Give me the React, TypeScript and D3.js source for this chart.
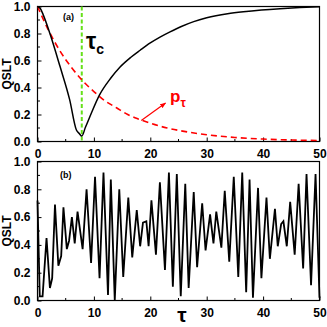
import React, { useEffect, useRef } from "react";
import * as d3 from "d3";

// panel (a): QSLT and p_tau against tau
const tauA = [0, 0.5, 1, 2.2, 4, 5.7, 6.9, 7.4, 7.85, 8.5, 9.3, 11, 13, 14.6, 16.5, 18.2, 20, 21.8, 23.5, 25.5, 27.7, 30, 33.7, 36.5, 39.7, 43, 46.5, 50];
const qsltA = [1.0, 0.985, 0.94, 0.8, 0.555, 0.31, 0.085, 0.06, 0.04, 0.105, 0.185, 0.345, 0.47, 0.55, 0.622, 0.676, 0.73, 0.775, 0.812, 0.852, 0.888, 0.916, 0.946, 0.961, 0.974, 0.984, 0.992, 0.998];
const tauP = [0, 2, 4, 6, 8, 10, 12, 14, 16, 18, 20, 23, 26, 30, 35, 40, 45, 50];
const pTau = [1.0, 0.82, 0.67, 0.55, 0.45, 0.37, 0.3, 0.25, 0.2, 0.165, 0.135, 0.1, 0.075, 0.05, 0.03, 0.018, 0.011, 0.007];
const tauC = 7.85;

// panel (b): oscillating QSLT
const tauB = [0, 0.4, 0.9, 1.6, 2.2, 2.6, 3.1, 3.7, 4.2, 4.6, 5.2, 5.6, 6.1, 6.6, 7.1, 8.0, 8.7, 9.5, 10.2, 11.0, 11.7, 12.5, 13.0, 13.7, 14.5, 15.2, 16.1, 16.8, 17.6, 18.2, 18.7, 19.3, 19.7, 20.2, 21.0, 21.7, 22.6, 23.3, 24.0, 24.7, 25.4, 26.2, 26.8, 27.7, 28.3, 29.2, 29.8, 30.6, 31.2, 31.7, 32.6, 33.2, 34.0, 34.8, 35.6, 36.3, 37.0, 37.6, 38.2, 39.1, 39.7, 40.6, 41.2, 42.1, 42.6, 43.2, 43.6, 44.2, 44.8, 45.6, 46.3, 47.1, 47.7, 48.5, 49.3, 50];
const qsltB = [0.72, 0.03, 0.03, 0.45, 0.09, 0.16, 0.69, 0.25, 0.32, 0.67, 0.37, 0.43, 0.6, 0.41, 0.64, 0.37, 0.8, 0.27, 0.89, 0.16, 0.92, 0.04, 0.87, 0.0, 0.8, 0.17, 0.74, 0.31, 0.65, 0.39, 0.56, 0.57, 0.39, 0.72, 0.33, 0.85, 0.22, 0.92, 0.1, 0.91, 0.03, 0.84, 0.09, 0.78, 0.24, 0.7, 0.36, 0.62, 0.41, 0.64, 0.38, 0.79, 0.28, 0.89, 0.17, 0.92, 0.06, 0.87, 0.02, 0.81, 0.16, 0.74, 0.3, 0.66, 0.39, 0.55, 0.57, 0.39, 0.71, 0.33, 0.84, 0.23, 0.91, 0.11, 0.91, 0.02];

const xTicks = [0, 10, 20, 30, 40, 50];
const yTicks = [0, 0.2, 0.4, 0.6, 0.8, 1.0];

const FONT = "'Liberation Sans', Arial, sans-serif";

const App = () => {
  const svgRef = useRef<SVGSVGElement>(null);

  useEffect(() => {
    const svg = d3.select(svgRef.current);
    svg.selectAll("*").remove();

    const left = 37.5;
    const right = 319.5;
    const x = d3.scaleLinear().domain([0, 50]).range([left, right]);

    const defs = svg.append("defs");
    defs
      .append("marker")
      .attr("id", "redArrow")
      .attr("viewBox", "0 0 10 10")
      .attr("refX", 9)
      .attr("refY", 5)
      .attr("markerWidth", 5)
      .attr("markerHeight", 5)
      .attr("orient", "auto")
      .append("path")
      .attr("d", "M0,1 L10,5 L0,9 Z")
      .attr("fill", "red");

    const drawPanel = (top: number, bottom: number) => {
      const y = d3.scaleLinear().domain([0, 1]).range([bottom, top]);
      const g = svg.append("g");

      const xAxis = d3
        .axisBottom(x)
        .tickValues(xTicks)
        .tickSizeInner(-4)
        .tickSizeOuter(0)
        .tickPadding(8)
        .tickFormat(d3.format("d"));
      const ax = g.append("g").attr("transform", `translate(0,${bottom})`).call(xAxis);
      ax.selectAll("text").attr("font-family", FONT).attr("font-weight", "bold").attr("font-size", 12).attr("fill", "#000");

      ax.selectAll(".minor")
        .data(d3.range(5, 50, 10))
        .enter()
        .append("line")
        .attr("x1", (d) => x(d))
        .attr("x2", (d) => x(d))
        .attr("y1", 0)
        .attr("y2", -2.5)
        .attr("stroke", "#000");

      const yAxis = d3
        .axisLeft(y)
        .tickValues(yTicks)
        .tickSizeInner(-4)
        .tickSizeOuter(0)
        .tickPadding(7)
        .tickFormat(d3.format(".1f"));
      const ay = g.append("g").attr("transform", `translate(${left},0)`).call(yAxis);
      ay.selectAll("text").attr("font-family", FONT).attr("font-weight", "bold").attr("font-size", 12).attr("fill", "#000");
      ay.selectAll(".minor")
        .data(d3.range(0.1, 1, 0.2))
        .enter()
        .append("line")
        .attr("x1", 0)
        .attr("x2", 2.5)
        .attr("y1", (d) => y(d))
        .attr("y2", (d) => y(d))
        .attr("stroke", "#000");

      g.selectAll(".domain").remove();
      g.append("rect")
        .attr("x", left)
        .attr("y", top)
        .attr("width", right - left)
        .attr("height", bottom - top)
        .attr("fill", "none")
        .attr("stroke", "#000")
        .attr("stroke-width", 1.2);

      g.append("text")
        .attr("transform", `translate(11,${(top + bottom) / 2}) rotate(-90)`)
        .attr("text-anchor", "middle")
        .attr("font-family", FONT)
        .attr("font-weight", "bold")
        .attr("font-size", 12)
        .text("QSLT");

      return { g, y };
    };

    // panel (a)
    const a = drawPanel(6.5, 141.5);
    const clipA = defs.append("clipPath").attr("id", "clipA");
    clipA.append("rect").attr("x", left).attr("y", 6.5).attr("width", right - left).attr("height", 135);

    a.g.append("line")
      .attr("x1", x(tauC))
      .attr("x2", x(tauC))
      .attr("y1", a.y(1))
      .attr("y2", a.y(0))
      .attr("stroke", "#66e01a")
      .attr("stroke-width", 2)
      .attr("stroke-dasharray", "4,2.5");

    const lineP = d3
      .line<number>()
      .x((d, i) => x(tauP[i]))
      .y((d) => a.y(d))
      .curve(d3.curveMonotoneX);
    a.g.append("path")
      .datum(pTau)
      .attr("d", lineP)
      .attr("fill", "none")
      .attr("stroke", "red")
      .attr("stroke-width", 1.6)
      .attr("stroke-dasharray", "6,4")
      .attr("clip-path", "url(#clipA)");

    const lineA = d3
      .line<number>()
      .x((d, i) => x(tauA[i]))
      .y((d) => a.y(d))
      .curve(d3.curveMonotoneX);
    a.g.append("path")
      .datum(qsltA)
      .attr("d", lineA)
      .attr("fill", "none")
      .attr("stroke", "#000")
      .attr("stroke-width", 1.5);

    a.g.append("line")
      .attr("x1", x(18.4))
      .attr("y1", a.y(0.155))
      .attr("x2", x(22.7))
      .attr("y2", a.y(0.285))
      .attr("stroke", "red")
      .attr("stroke-width", 1.2)
      .attr("marker-end", "url(#redArrow)");

    a.g.append("text")
      .attr("x", 63)
      .attr("y", 19.5)
      .attr("font-family", FONT)
      .attr("font-weight", "bold")
      .attr("font-size", 9)
      .text("(a)");

    const tc = a.g.append("text").attr("x", 86).attr("y", 49).attr("font-family", FONT).attr("font-weight", "bold");
    tc.append("tspan").attr("font-size", 23).text("τ");
    tc.append("tspan").attr("font-size", 14).attr("dy", 5).text("c");

    const pt = a.g.append("text").attr("x", 170).attr("y", 102).attr("font-family", FONT).attr("font-weight", "bold").attr("fill", "red");
    pt.append("tspan").attr("font-size", 17).text("p");
    pt.append("tspan").attr("font-size", 12).attr("dy", 5).text("τ");

    // panel (b)
    const b = drawPanel(161.5, 300.5);
    const lineB = d3
      .line<number>()
      .x((d, i) => x(tauB[i]))
      .y((d) => b.y(d));
    b.g.append("path")
      .datum(qsltB)
      .attr("d", lineB)
      .attr("fill", "none")
      .attr("stroke", "#000")
      .attr("stroke-width", 1.8)
      .attr("stroke-linejoin", "miter");

    b.g.append("text")
      .attr("x", 60)
      .attr("y", 177.5)
      .attr("font-family", FONT)
      .attr("font-weight", "bold")
      .attr("font-size", 9)
      .text("(b)");

    svg.append("text")
      .attr("x", 182)
      .attr("y", 322)
      .attr("text-anchor", "middle")
      .attr("font-family", FONT)
      .attr("font-weight", "bold")
      .attr("font-size", 21)
      .text("τ");
  }, []);

  return (
    <svg
      ref={svgRef}
      width={327}
      height={327}
      style={{ position: "absolute", left: 0, top: 0, background: "#fff" }}
    ></svg>
  );
};

export default App;
